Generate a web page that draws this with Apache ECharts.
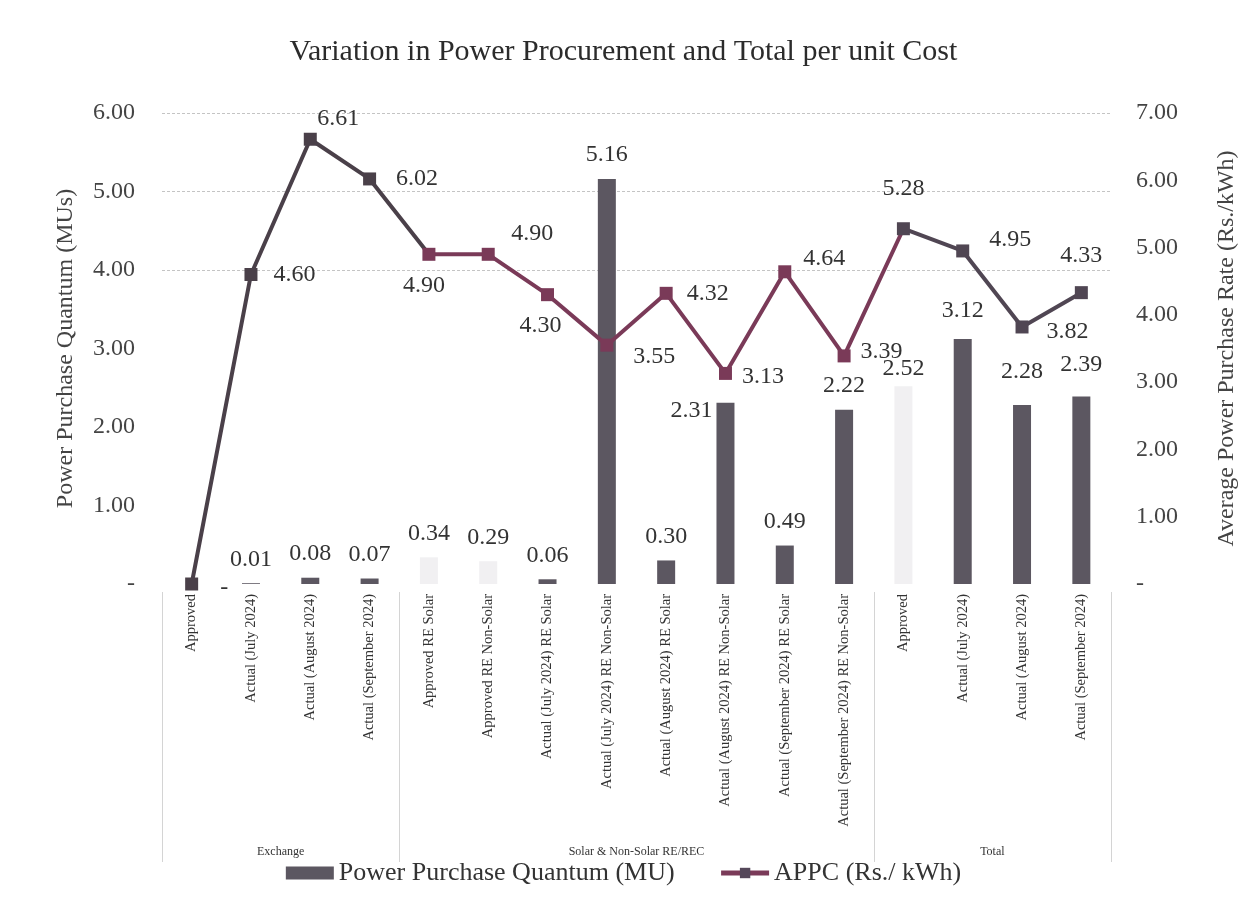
<!DOCTYPE html>
<html><head><meta charset="utf-8">
<script src="https://cdn.jsdelivr.net/npm/echarts@6/dist/echarts.min.js"></script>
<style>html,body{margin:0;padding:0;background:#fff}#c{width:1247px;height:905px}</style>
</head><body><div id="c"></div>
<script>
// ---- data ----
const categories = [
  'Approved', 'Actual (July 2024)', 'Actual (August 2024)', 'Actual (September 2024)',
  'Approved RE Solar', 'Approved RE Non-Solar',
  'Actual (July 2024) RE Solar', 'Actual (July 2024) RE Non-Solar',
  'Actual (August 2024) RE Solar', 'Actual (August 2024) RE Non-Solar',
  'Actual (September 2024) RE Solar', 'Actual (September 2024) RE Non-Solar',
  'Approved', 'Actual (July 2024)', 'Actual (August 2024)', 'Actual (September 2024)'
];
const groups = ['Exchange', 'Solar & Non-Solar RE/REC', 'Total'];
const groupSizes = [4, 8, 4];
const quantum = [0, 0.01, 0.08, 0.07, 0.34, 0.29, 0.06, 5.16, 0.30, 2.31, 0.49, 2.22, 2.52, 3.12, 2.28, 2.39];
const appc = [0, 4.60, 6.61, 6.02, 4.90, 4.90, 4.30, 3.55, 4.32, 3.13, 4.64, 3.39, 5.28, 4.95, 3.82, 4.33];
const leftTicks = [0, 1, 2, 3, 4, 5, 6];
const rightTicks = [0, 1, 2, 3, 4, 5, 6, 7];
const seriesNames = ['Power Purchase Quantum (MU)', 'APPC (Rs./ kWh)'];
const titleText = 'Variation in Power Procurement and Total per unit Cost';
const leftAxisName = 'Power Purchase Quantum (MUs)';
const rightAxisName = 'Average Power Purchase Rate (Rs./kWh)';

// ---- styles ----
const FONT = '"Liberation Serif","Times New Roman",serif';
const fmt = v => (v === 0 ? '-' : v.toFixed(2));
const faintBars = [4, 5, 12];
const lineLabelCfg = [
  {position: 'right', distance: 22, offset: [0, 4]},
  {position: 'right', distance: 16},
  {position: 'top', offset: [28, 3]},
  {position: 'right', distance: 20},
  {position: 'bottom', offset: [-5, 8]},
  {position: 'top', offset: [44, 3]},
  {position: 'bottom', offset: [-7, 8]},
  {position: 'right', distance: 20, offset: [0, 12]},
  {position: 'right', distance: 14},
  {position: 'right', distance: 10, offset: [0, 3]},
  {position: 'right', distance: 12, offset: [0, -13]},
  {position: 'right', distance: 10, offset: [0, -4]},
  {position: 'top', offset: [0, -17]},
  {position: 'right', distance: 20, offset: [0, -11]},
  {position: 'right', distance: 18, offset: [0, 5]},
  {position: 'top', offset: [0, -13]}
];
const barLabelCfg = {
  0: {show: false},
  9: {position: [-4, 8], align: 'right', verticalAlign: 'middle'},
  12: {distance: 5},
  13: {distance: 16},
  14: {distance: 21},
  15: {distance: 20}
};

const barData = quantum.map((v, i) => {
  const o = {value: v};
  if (faintBars.includes(i)) o.itemStyle = {color: '#f1f0f2'};
  if (barLabelCfg[i]) o.label = barLabelCfg[i];
  return o;
});
const lineData = appc.map((v, i) => ({value: v, label: lineLabelCfg[i]}));

const chart = echarts.init(document.getElementById('c'));
const gridLineColors = leftTicks.map(t => (t >= 4 ? '#c4c4c4' : 'rgba(0,0,0,0)'));

const option = {
  backgroundColor: '#fff',
  animation: false,
  title: {
    text: titleText, left: 'center', top: 32,
    textStyle: {fontFamily: FONT, fontSize: 30, fontWeight: 'normal', color: '#2b2b2b'}
  },
  legend: {
    bottom: 14, left: 'center', itemGap: 44, itemWidth: 48, itemHeight: 13,
    textStyle: {fontFamily: FONT, fontSize: 26, color: '#333'},
    data: [
      {name: seriesNames[0], icon: 'rect'},
      {name: seriesNames[1], itemStyle: {color: '#55485a'}, lineStyle: {color: '#7a3a58', width: 5}}
    ]
  },
  grid: {left: 162, right: 129, top: 113, bottom: 321},
  visualMap: {
    show: false, type: 'piecewise', seriesIndex: 1, dimension: 0,
    pieces: [
      {lt: 3.5, color: '#4a4049'},
      {gte: 3.5, lt: 11.5, color: '#7a3a58'},
      {gte: 11.5, color: '#504653'}
    ]
  },
  xAxis: {
    type: 'category', data: categories,
    axisLine: {show: false}, axisTick: {show: false},
    axisLabel: {interval: 0, rotate: 90, margin: 10, fontFamily: FONT, fontSize: 14.5, color: '#333'}
  },
  yAxis: [
    {
      type: 'value', min: leftTicks[0], max: leftTicks[leftTicks.length - 1], interval: 1,
      name: leftAxisName, nameLocation: 'middle', nameRotate: 90, nameGap: 84,
      nameTextStyle: {fontFamily: FONT, fontSize: 24, color: '#444'},
      axisLine: {show: false}, axisTick: {show: false},
      axisLabel: {formatter: fmt, margin: 27, fontFamily: FONT, fontSize: 24, color: '#444'},
      splitLine: {show: true, lineStyle: {color: gridLineColors, type: [3, 2], width: 1}}
    },
    {
      type: 'value', min: rightTicks[0], max: rightTicks[rightTicks.length - 1], interval: 1,
      name: rightAxisName, nameLocation: 'middle', nameRotate: 90, nameGap: 104,
      nameTextStyle: {fontFamily: FONT, fontSize: 24, color: '#444'},
      axisLine: {show: false}, axisTick: {show: false},
      axisLabel: {formatter: fmt, margin: 25, fontFamily: FONT, fontSize: 24, color: '#444'},
      splitLine: {show: false}
    }
  ],
  series: [
    {
      name: seriesNames[0], type: 'bar', yAxisIndex: 0, barWidth: 18,
      itemStyle: {color: '#5c5761'},
      label: {show: true, position: 'top', distance: 12, formatter: p => fmt(p.value),
              fontFamily: FONT, fontSize: 24, color: '#333'},
      data: barData
    },
    {
      name: seriesNames[1], type: 'line', yAxisIndex: 1,
      symbol: 'rect', symbolSize: 13,
      lineStyle: {width: 4},
      itemStyle: {color: '#5a4a5c'},
      label: {show: true, formatter: p => fmt(p.value), fontFamily: FONT, fontSize: 24, color: '#333'},
      data: lineData, z: 3
    }
  ]
};
chart.setOption(option);

// group separators and group labels, placed via the category axis scale
function px(i) { return chart.convertToPixel({xAxisIndex: 0}, i); }
const step = px(1) - px(0);
const boundary = b => px(0) - step / 2 + b * step;
const graphics = [];
let start = 0;
const bounds = [0];
groupSizes.forEach((n, gi) => {
  const mid = boundary(start + n / 2);
  graphics.push({type: 'text', x: mid, y: 852, style: {text: groups[gi], fill: '#333',
    font: '12px ' + FONT, textAlign: 'center', textVerticalAlign: 'middle'}});
  start += n; bounds.push(start);
});
bounds.forEach(b => {
  const x = Math.round(boundary(b)) + 0.5;
  graphics.push({type: 'line', shape: {x1: x, y1: 592, x2: x, y2: 862},
    style: {stroke: '#d4d4d4', lineWidth: 1}});
});
chart.setOption({graphic: graphics});
</script></body></html>
